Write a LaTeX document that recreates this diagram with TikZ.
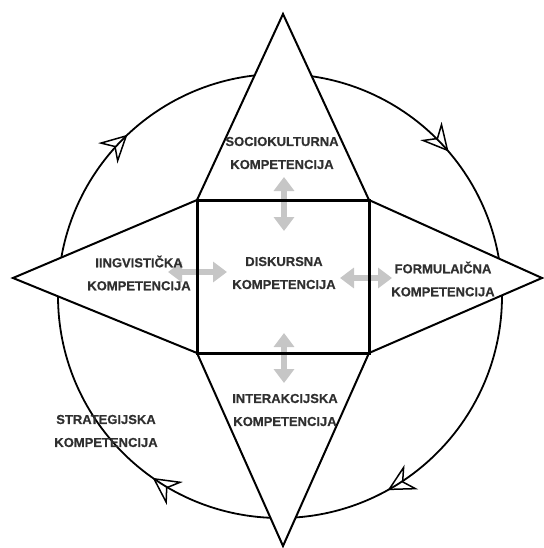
\documentclass[tikz,border=0pt]{standalone}
\usepackage{fontspec}
\setmainfont{Liberation Sans}[BoldFeatures={FakeBold=0.5}]
\usetikzlibrary{arrows.meta,decorations.markings}
\definecolor{labelgray}{HTML}{303030}
\definecolor{arrowgray}{HTML}{C6C6C6}
\tikzset{
  flow/.tip={Stealth[open,length=27pt,width=28pt,inset=9pt,line width=1.5pt]},
  komp/.style={font=\bfseries\fontsize{13}{23}\selectfont, text=labelgray, align=center, inner sep=0pt},
  spike/.style={draw, fill=white, line width=2pt},
  twoway/.style={arrowgray, line width=6pt, {Triangle[length=14pt,width=20pt]}-{Triangle[length=14pt,width=20pt]}},
  ring/.style={line width=1.8pt, postaction={decorate}, decoration={markings,
    mark=at position 0.1694 with {\arrow{flow}},
    mark=at position 0.3472 with {\arrow{flow}},
    mark=at position 0.6294 with {\arrow{flow}},
    mark=at position 0.8872 with {\arrow{flow}}}}
}
\begin{document}
\begin{tikzpicture}[x=1pt,y=-1pt]
    \useasboundingbox (0,0) rectangle (543,548);
    % corners of the centre square and the four tips
    \coordinate (nw) at (197,200);
    \coordinate (ne) at (369,200);
    \coordinate (se) at (369,353);
    \coordinate (sw) at (197,353);
    \coordinate (ntip) at (283,14);
    \coordinate (stip) at (283,546);
    \coordinate (wtip) at (13,278);
    \coordinate (etip) at (542,278);
    \coordinate (c) at (280,296);
    \draw[ring] (c) circle (222);
    \draw[spike] (nw) -- (ntip) -- (ne) -- cycle;
    \draw[spike] (sw) -- (stip) -- (se) -- cycle;
    \draw[spike] (nw) -- (wtip) -- (sw) -- cycle;
    \draw[spike] (ne) -- (etip) -- (se) -- cycle;
    % grey two-way arrows
    \coordinate (a1) at (284,177);
    \coordinate (a2) at (284,231);
    \coordinate (b1) at (284,333);
    \coordinate (b2) at (284,383);
    \coordinate (l1) at (168,272);
    \coordinate (l2) at (227,272);
    \coordinate (r1) at (340,278);
    \coordinate (r2) at (392,278);
    \draw[twoway] (a1) -- (a2);
    \draw[twoway] (b1) -- (b2);
    \draw[twoway] (l1) -- (l2);
    \draw[twoway] (r1) -- (r2);
    \draw[line width=3pt] (nw) rectangle (se);
    \node[komp] (socio) at (282,153) {SOCIOKULTURNA\\KOMPETENCIJA};
    \node[komp] (lingv) at (139,273) {IINGVISTIČKA\\KOMPETENCIJA};
    \node[komp] (diskurs) at (284,273) {DISKURSNA\\KOMPETENCIJA};
    \node[komp] (formul) at (443,279) {FORMULAIČNA\\KOMPETENCIJA};
    \node[komp] (interak) at (285,410) {INTERAKCIJSKA\\KOMPETENCIJA};
    \node[komp] (strateg) at (106,431) {STRATEGIJSKA\\KOMPETENCIJA};
\end{tikzpicture}
\end{document}
